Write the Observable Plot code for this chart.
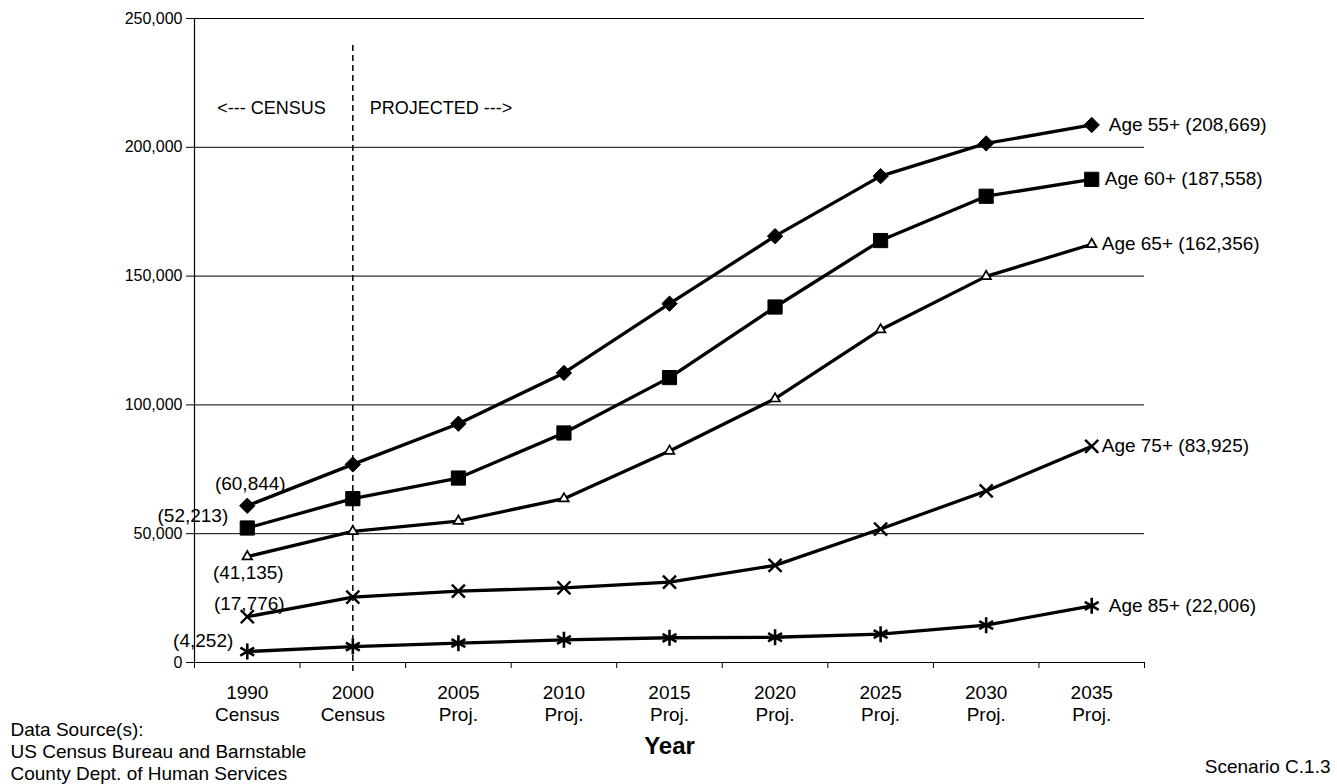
<!DOCTYPE html>
<html>
<head>
<meta charset="utf-8">
<script src="https://cdn.jsdelivr.net/npm/d3@7"></script>
<script src="https://cdn.jsdelivr.net/npm/@observablehq/plot@0.6"></script>
<style>
  html, body { margin: 0; padding: 0; background: #fff; }
  #chart svg { display: block; }
</style>
</head>
<body>
<div id="chart"></div>
<script>
// ---- Data ----
const years = ["1990", "2000", "2005", "2010", "2015", "2020", "2025", "2030", "2035"];
const yearNotes = ["Census", "Census", "Proj.", "Proj.", "Proj.", "Proj.", "Proj.", "Proj.", "Proj."];
const yTicks = [0, 50000, 100000, 150000, 200000, 250000];

const seriesNames = ["Age 55+", "Age 60+", "Age 65+", "Age 75+", "Age 85+"];
const age55 = [60844, 76900, 92700, 112400, 139300, 165500, 188800, 201500, 208669];
const age60 = [52213, 63600, 71600, 89100, 110600, 138000, 163800, 181000, 187558];
const age65 = [41135, 50900, 54900, 63600, 82100, 102400, 129200, 149900, 162356];
const age75 = [17776, 25400, 27700, 29000, 31200, 37700, 51800, 66600, 83925];
const age85 = [4252, 6200, 7500, 8800, 9600, 9800, 11000, 14500, 22006];

const censusDividerIndex = 1; // the 2000 Census category
const sourceText = "Data Source(s):\nUS Census Bureau and Barnstable\nCounty Dept. of Human Services";
const scenarioText = "Scenario C.1.3";

// ---- Build tables ----
const allValues = [age55, age60, age65, age75, age85];
const rows = allValues.flatMap((vals, s) => vals.map((v, i) => ({name: seriesNames[s], i, v})));
const bySeries = name => rows.filter(d => d.name === name);
const firstOf = name => bySeries(name).slice(0, 1);
const lastOf = name => bySeries(name).slice(-1);
const fmt = d3.format(",");

const boundaries = d3.range(-0.5, years.length, 1);
const font = "'Liberation Sans', Arial, Helvetica, sans-serif";

const chart = Plot.plot({
  width: 1337,
  height: 784,
  marginLeft: 194,
  marginRight: 193,
  marginTop: 18,
  marginBottom: 122,
  x: {domain: [-0.5, years.length - 0.5], axis: null},
  y: {domain: [0, 250000], axis: null},
  style: {fontFamily: font, color: "black", background: "white", overflow: "visible"},
  marks: [
    // gridlines
    Plot.gridY({ticks: yTicks.filter(d => d > 0), stroke: "black", strokeOpacity: 1, strokeWidth: 1}),
    // y axis
    Plot.axisY({ticks: yTicks, tickFormat: fmt, tickSize: 8, tickPadding: 4, fontSize: 16, label: null}),
    Plot.ruleX([-0.5], {stroke: "black", strokeWidth: 1.2}),
    Plot.ruleY([0], {stroke: "black", strokeWidth: 1.2}),
    // x axis: ticks at category boundaries, labels at centers
    Plot.axisX({ticks: boundaries, tickSize: 6, tickFormat: () => "", label: null}),
    Plot.axisX({ticks: d3.range(years.length), tickSize: 0, tickPadding: 20,
      tickFormat: i => years[i] + "\n" + yearNotes[i], fontSize: 19, lineHeight: 1.2, label: null}),
    Plot.text(["Year"], {frameAnchor: "bottom", dy: 91, fontSize: 24, fontWeight: "bold"}),
    // census / projected divider
    Plot.ruleX([censusDividerIndex], {stroke: "black", strokeWidth: 1.5, strokeDasharray: "6,4", insetTop: 27, insetBottom: -11}),
    Plot.text(["<--- CENSUS"], {x: censusDividerIndex, frameAnchor: "top", dy: 83, dx: -27, textAnchor: "end", fontSize: 18}),
    Plot.text(["PROJECTED --->"], {x: censusDividerIndex, frameAnchor: "top", dy: 83, dx: 17, textAnchor: "start", fontSize: 18}),
    // series lines
    Plot.line(rows, {x: "i", y: "v", z: "name", stroke: "black", strokeWidth: 3.3, curve: "linear"}),
    // markers
    Plot.dot(bySeries("Age 55+"), {x: "i", y: "v", symbol: "diamond2", r: 6.9, fill: "black", stroke: "black", strokeWidth: 1}),
    Plot.dot(bySeries("Age 60+"), {x: "i", y: "v", symbol: "square", r: 8, fill: "black", stroke: "black", strokeWidth: 1}),
    Plot.dot(bySeries("Age 65+"), {x: "i", y: "v", symbol: "triangle2", r: 4.6, fill: "white", stroke: "black", strokeWidth: 1.7}),
    Plot.dot(bySeries("Age 75+"), {x: "i", y: "v", symbol: "times", r: 6, fill: "none", stroke: "black", strokeWidth: 2.4}),
    Plot.dot(bySeries("Age 85+"), {x: "i", y: "v", symbol: "asterisk", r: 7.6, fill: "none", stroke: "black", strokeWidth: 2.6}),
    // first-value labels
    Plot.text(firstOf("Age 55+"), {x: "i", y: "v", text: d => `(${fmt(d.v)})`, dy: -22, dx: 3, fontSize: 19}),
    Plot.text(firstOf("Age 60+"), {x: "i", y: "v", text: d => `(${fmt(d.v)})`, dy: -12, dx: -19, textAnchor: "end", fontSize: 19}),
    Plot.text(firstOf("Age 65+"), {x: "i", y: "v", text: d => `(${fmt(d.v)})`, dy: 16, dx: 1, fontSize: 19}),
    Plot.text(firstOf("Age 75+"), {x: "i", y: "v", text: d => `(${fmt(d.v)})`, dy: -13, dx: 2, fontSize: 19}),
    Plot.text(firstOf("Age 85+"), {x: "i", y: "v", text: d => `(${fmt(d.v)})`, dy: -11, dx: -14, textAnchor: "end", fontSize: 19}),
    // end labels
    Plot.text(lastOf("Age 55+"), {x: "i", y: "v", text: d => `${d.name} (${fmt(d.v)})`, dx: 17, textAnchor: "start", fontSize: 19}),
    Plot.text(lastOf("Age 60+"), {x: "i", y: "v", text: d => `${d.name} (${fmt(d.v)})`, dx: 13, textAnchor: "start", fontSize: 19}),
    Plot.text(lastOf("Age 65+"), {x: "i", y: "v", text: d => `${d.name} (${fmt(d.v)})`, dx: 10, textAnchor: "start", fontSize: 19}),
    Plot.text(lastOf("Age 75+"), {x: "i", y: "v", text: d => `${d.name} (${fmt(d.v)})`, dx: 10, textAnchor: "start", fontSize: 19}),
    Plot.text(lastOf("Age 85+"), {x: "i", y: "v", text: d => `${d.name} (${fmt(d.v)})`, dx: 17, textAnchor: "start", fontSize: 19}),
    // source & scenario notes
    Plot.text([sourceText], {frameAnchor: "bottom-left", dx: -184, dy: 88, textAnchor: "start", lineAnchor: "middle", lineHeight: 1.16, fontSize: 19}),
    Plot.text([scenarioText], {frameAnchor: "bottom-right", dx: 186, dy: 110, textAnchor: "end", fontSize: 19})
  ]
});
document.getElementById("chart").appendChild(chart);
</script>
</body>
</html>
